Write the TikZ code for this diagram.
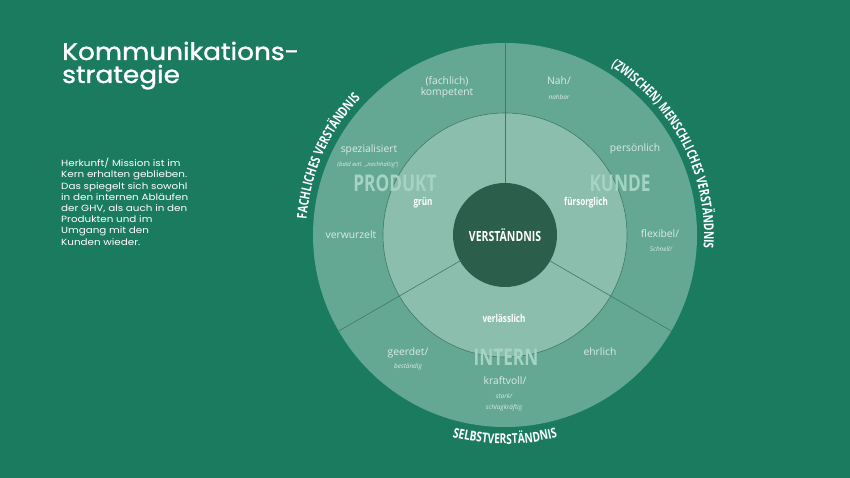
\documentclass[tikz,border=0pt]{standalone}
\usepackage{fontspec}
\setmainfont{Open Sans}
\newfontfamily\titlefont[FakeStretch=1.1,FakeBold=1.2]{Poppins}
\newfontfamily\parafont[FakeStretch=1.15]{Poppins}
\newfontfamily\cond[FakeStretch=0.75]{Open Sans}
\usetikzlibrary{decorations.text,calc}
\definecolor{bg}{HTML}{1B7B5E}
\definecolor{outerring}{HTML}{64A893}
\definecolor{innerring}{HTML}{8CBEAD}
\definecolor{core}{HTML}{2C5E4C}
\definecolor{divider}{HTML}{3E7A64}
\definecolor{lbl}{HTML}{DCEBE5}
\definecolor{segtitle}{HTML}{A6D3C3}
\newcommand\curvefont{\cond\bfseries\fontsize{13.6}{13.6}\selectfont}
\tikzset{
  ringlbl/.style={font=\fontsize{10.3}{11}\selectfont, text=lbl, inner sep=0pt},
  smalllbl/.style={font=\fontsize{6.4}{7}\selectfont\itshape, text=lbl, inner sep=0pt},
  segname/.style={font=\cond\bfseries\fontsize{23}{23}\selectfont, text=segtitle, inner sep=0pt},
  value/.style={font=\cond\bfseries\fontsize{10.8}{11}\selectfont, text=white, inner sep=0pt},
  divline/.style={draw=divider, line width=0.6pt},
  curved/.style={decorate, decoration={text along path, text={#1}, text align=center, text color=white}}
}
\begin{document}
\begin{tikzpicture}[x=1pt,y=1pt]
\fill[bg] (0,0) rectangle (850,478);
\useasboundingbox (0,0) rectangle (850,478);
\coordinate (C) at (505,243);
% rings
\fill[outerring] (C) circle (192);
\fill[innerring] (C) circle (122);
\draw[divline] (C) circle (122);
\foreach \a in {90,210,330}
  \draw[divline] ($(C)+(\a:52)$) -- ($(C)+(\a:192)$);
\fill[core] (C) circle (52);
% title
\node[anchor=base west, inner sep=0pt, text=white, font=\titlefont\fontsize{24}{24}\selectfont] (t1) at (62,418) {Kommunikations-};
\node[anchor=base west, inner sep=0pt, text=white, font=\titlefont\fontsize{24}{24}\selectfont] (t2) at (62,395) {strategie};
% paragraph
\node[anchor=north west, inner sep=0pt, text=white, align=left, font=\parafont\fontsize{9}{11.2}\selectfont] (para) at (61,320)
 {Herkunft/ Mission ist im\\Kern erhalten geblieben.\\Das spiegelt sich sowohl\\in den internen Abläufen\\der GHV, als auch in den\\Produkten und im\\Umgang mit den\\Kunden wieder.};
% center
\node[font=\cond\bfseries\fontsize{14}{14}\selectfont, text=white, inner sep=0pt] (core) at (C) {VERSTÄNDNIS};
% segment names
\node[segname] (produkt) at (395,295) {PRODUKT};
\node[segname] (kunde) at (620,295) {KUNDE};
\node[segname] (intern) at (506,121) {INTERN};
% inner values
\node[value] (gruen) at (423,275) {grün};
\node[value] (fuers) at (586,275) {fürsorglich};
\node[value] (verl) at (504,160) {verlässlich};
% outer ring labels
\node[ringlbl] (fach1) at (447,397) {(fachlich)};
\node[ringlbl] (fach2) at (447,385) {kompetent};
\node[ringlbl] (nah1) at (559,397) {Nah/};
\node[smalllbl] (nah2) at (559,381) {nahbar};
\node[ringlbl] (spez1) at (369,328) {spezialisiert};
\node[smalllbl, font=\fontsize{5.9}{6}\selectfont\itshape] (spez2) at (368,313) {(bald evtl. „nachhaltig“)};
\node[ringlbl] (pers) at (635,329) {persönlich};
\node[ringlbl] (verw) at (351,243) {verwurzelt};
\node[ringlbl] (flex1) at (660,244) {flexibel/};
\node[smalllbl] (flex2) at (661,229) {Schnell/};
\node[ringlbl] (geer1) at (408,125) {geerdet/};
\node[smalllbl] (geer2) at (408,111) {beständig};
\node[ringlbl] (ehr) at (600,126) {ehrlich};
\node[ringlbl] (kraft1) at (505,97) {kraftvoll/};
\node[smalllbl] (kraft2) at (504,82) {stark/};
\node[smalllbl] (kraft3) at (504,70) {schlagkräftig};
% curved outer labels
\path[curved={|\curvefont|FACHLICHES VERSTÄNDNIS}] ($(C)+(186:199)$) arc[start angle=186, end angle=126, radius=199];
\path[curved={|\curvefont|(ZWISCHEN) MENSCHLICHES VERSTÄNDNIS}] ($(C)+(72:199)$) arc[start angle=72, end angle=-18, radius=199];
\path[curved={|\curvefont|SELBSTVERSTÄNDNIS}] ($(C)+(230:209)$) arc[start angle=230, end angle=310, radius=209];
\end{tikzpicture}
\end{document}
